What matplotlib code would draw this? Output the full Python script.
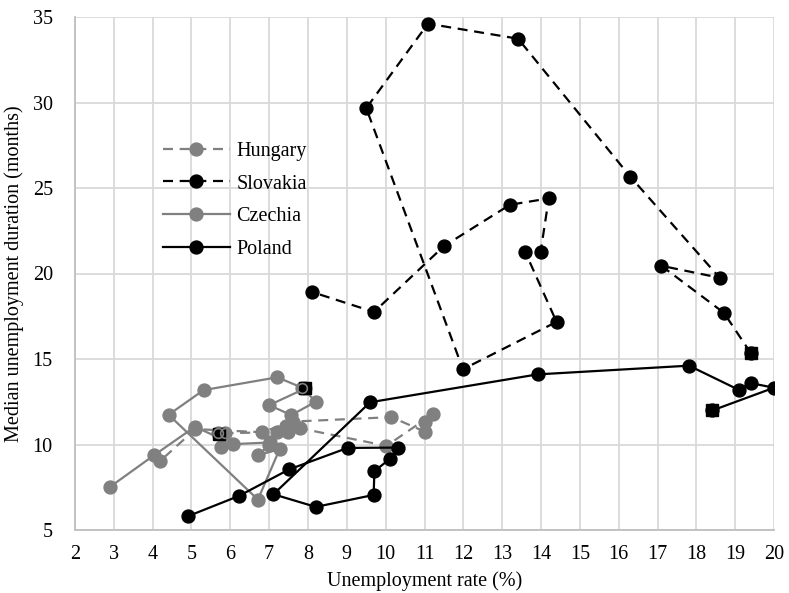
import matplotlib
matplotlib.use("Agg")
import matplotlib.pyplot as plt

# ---- data (unemployment rate %, median unemployment duration months), 2001 first ----
hungary_x = [5.71, 5.77, 5.68, 5.85, 7.21, 7.49, 7.43, 7.79, 10.02, 11.22, 11.02, 11.0, 10.15, 7.62, 6.81, 5.1, 4.2]
hungary_y = [10.64, 9.88, 10.7, 10.66, 10.72, 10.75, 11.1, 10.95, 9.92, 11.78, 11.3, 10.76, 11.6, 11.34, 10.72, 10.9, 9.05]

slovakia_x = [19.4, 18.71, 17.1, 18.6, 16.3, 13.41, 11.09, 9.5, 11.99, 14.4, 13.6, 13.99, 14.2, 13.2, 11.5, 9.7, 8.1]
slovakia_y = [15.35, 17.7, 20.45, 19.75, 25.66, 33.73, 34.61, 29.67, 14.4, 17.17, 21.23, 21.27, 24.39, 24.02, 21.6, 17.75, 18.92]

czechia_x = [7.93, 7.0, 7.57, 8.2, 7.85, 7.21, 5.31, 4.41, 6.71, 7.27, 6.71, 7.0, 7.02, 6.06, 5.09, 4.04, 2.9]
czechia_y = [13.28, 12.3, 11.72, 12.5, 13.32, 13.93, 13.18, 11.74, 6.78, 9.73, 9.37, 9.96, 10.12, 10.02, 11.04, 9.38, 7.52]

poland_x = [18.41, 20.0, 19.4, 19.09, 17.81, 13.91, 9.6, 7.11, 8.2, 9.69, 9.71, 10.12, 10.32, 9.02, 7.51, 6.22, 4.9]
poland_y = [11.99, 13.32, 13.59, 13.2, 14.61, 14.1, 12.47, 7.09, 6.35, 7.05, 8.44, 9.18, 9.82, 9.8, 8.54, 6.99, 5.8]

x_ticks = list(range(2, 21))
y_ticks = [5, 10, 15, 20, 25, 30, 35]

labels = ["Hungary", "Slovakia", "Czechia", "Poland"]

GRAY = "#808080"
BLACK = "#000000"
FONT = "Liberation Serif"
FS = 14.5

plt.rcParams["font.family"] = [FONT, "DejaVu Serif"]

fig = plt.figure(figsize=(7.89, 5.93), dpi=100)
ax = fig.add_axes([75 / 789, 1 - 530 / 593, 699 / 789, 513 / 593])

dash = (0, (4.5, 3))
series = [
    (hungary_x, hungary_y, GRAY, dash, labels[0]),
    (slovakia_x, slovakia_y, BLACK, dash, labels[1]),
    (czechia_x, czechia_y, GRAY, "-", labels[2]),
    (poland_x, poland_y, BLACK, "-", labels[3]),
]

for xs, ys, col, ls, lab in series:
    ax.plot(xs, ys, color=col, linestyle=ls, linewidth=1.6, marker="o",
            markersize=9.3, markerfacecolor=col, markeredgecolor=col, label=lab, zorder=3)

# first-year (2001) points marked with black squares
for xs, ys, col, ls, lab in series:
    ax.plot([xs[0]], [ys[0]], marker="s", markersize=8.5, color=BLACK, linestyle="none", zorder=5)

# overlapping grey points visible as rings on top of squares
ax.plot([czechia_x[4]], [czechia_y[4]], marker="o", markersize=7, markerfacecolor="none",
        markeredgecolor=GRAY, markeredgewidth=1.2, linestyle="none", zorder=6)
ax.plot([hungary_x[2], hungary_x[3]], [hungary_y[2], hungary_y[3]], marker="o", markersize=7,
        markerfacecolor="none", markeredgecolor=GRAY, markeredgewidth=1.2, linestyle="none", zorder=6)

ax.set_xlim(2, 20)
ax.set_ylim(5, 35)
ax.set_xticks(x_ticks)
ax.set_yticks(y_ticks)
ax.set_xticklabels([str(v) for v in x_ticks], fontsize=FS, family=FONT)
ax.set_yticklabels([str(v) for v in y_ticks], fontsize=FS, family=FONT)
ax.tick_params(axis="both", length=0)
ax.tick_params(axis="x", pad=11)
ax.tick_params(axis="y", pad=16)

ax.grid(True, color="#d9d9d9", linewidth=1.3, zorder=0)
ax.set_axisbelow(True)
for s in ["top", "right"]:
    ax.spines[s].set_visible(False)
for s in ["left", "bottom"]:
    ax.spines[s].set_color("#bfbfbf")
    ax.spines[s].set_linewidth(1.3)

ax.set_xlabel("Unemployment rate (%)", fontsize=FS, family=FONT, labelpad=5)
ax.set_ylabel("Median unemployment duration (months)", fontsize=FS, family=FONT, labelpad=6)

leg = ax.legend(loc="upper left", bbox_to_anchor=(0.126, 0.757), frameon=False,
                prop={"family": FONT, "size": FS}, handlelength=3.3, handletextpad=0.35,
                labelspacing=0.68, borderpad=0, borderaxespad=0, numpoints=1)

fig.savefig("out.png", dpi=100)
